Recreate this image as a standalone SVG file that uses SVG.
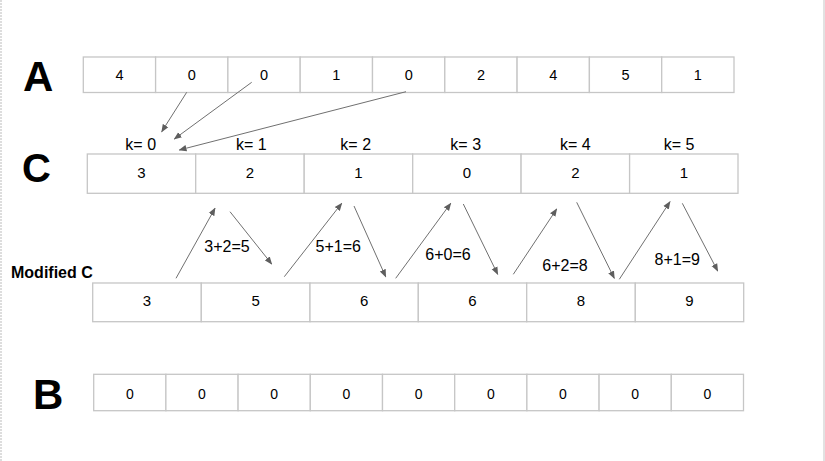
<svg xmlns="http://www.w3.org/2000/svg" width="825" height="461" viewBox="0 0 825 461">
<defs>
<style>
.cell{fill:#fff;stroke:#c6c6c6;stroke-width:1.3}
.num{font-family:"Liberation Sans",Arial,sans-serif;font-size:14.5px;fill:#000;text-anchor:middle}
.big{font-family:"Liberation Sans",Arial,sans-serif;font-size:42px;font-weight:bold;fill:#000}
.lbl{font-family:"Liberation Sans",Arial,sans-serif;font-size:16px;fill:#000;text-anchor:middle}
.conn line{stroke:#707070;stroke-width:1;marker-end:url(#ah)}
</style>
<marker id="ah" viewBox="0 0 10 10" refX="9" refY="5" markerWidth="8" markerHeight="8" markerUnits="userSpaceOnUse" orient="auto">
<path d="M0,1 L10,5 L0,9 z" fill="#5e5e5e"/>
</marker>
</defs>
<rect x="0" y="0" width="825" height="461" fill="#fff"/>
<line x1="1" y1="0" x2="1" y2="461" stroke="#d2d2d2" stroke-width="1.5" stroke-dasharray="2,1"/>
<rect x="823" y="0" width="2" height="461" fill="#e2e2e2"/>

<g id="arrayA">
<text class="big" x="23" y="91">A</text>
<rect class="cell" x="83.3" y="57" width="72.3" height="35.5"/>
<rect class="cell" x="155.6" y="57" width="72.3" height="35.5"/>
<rect class="cell" x="227.9" y="57" width="72.3" height="35.5"/>
<rect class="cell" x="300.2" y="57" width="72.3" height="35.5"/>
<rect class="cell" x="372.5" y="57" width="72.3" height="35.5"/>
<rect class="cell" x="444.8" y="57" width="72.3" height="35.5"/>
<rect class="cell" x="517.1" y="57" width="72.3" height="35.5"/>
<rect class="cell" x="589.4" y="57" width="72.3" height="35.5"/>
<rect class="cell" x="661.7" y="57" width="72.3" height="35.5"/>
<text class="num" x="119.5" y="79.5">4</text>
<text class="num" x="191.8" y="79.5">0</text>
<text class="num" x="264.1" y="79.5">0</text>
<text class="num" x="336.4" y="79.5">1</text>
<text class="num" x="408.7" y="79.5">0</text>
<text class="num" x="481" y="79.5">2</text>
<text class="num" x="553.3" y="79.5">4</text>
<text class="num" x="625.6" y="79.5">5</text>
<text class="num" x="697.9" y="79.5">1</text>
</g>

<g id="arrayC">
<text class="big" x="22" y="182" style="font-size:40px">C</text>
<rect class="cell" x="87.3" y="154" width="108.4" height="39.3"/>
<rect class="cell" x="195.7" y="154" width="108.5" height="39.3"/>
<rect class="cell" x="304.2" y="154" width="108.5" height="39.3"/>
<rect class="cell" x="412.7" y="154" width="108.4" height="39.3"/>
<rect class="cell" x="521.1" y="154" width="108.5" height="39.3"/>
<rect class="cell" x="629.6" y="154" width="108.4" height="39.3"/>
<text class="num" x="141.5" y="177.5" style="font-size:15px">3</text>
<text class="num" x="250" y="177.5" style="font-size:15px">2</text>
<text class="num" x="358.5" y="177.5" style="font-size:15px">1</text>
<text class="num" x="467" y="177.5" style="font-size:15px">0</text>
<text class="num" x="575.3" y="177.5" style="font-size:15px">2</text>
<text class="num" x="683.8" y="177.5" style="font-size:15px">1</text>
<text class="lbl" x="140.7" y="149.5">k= 0</text>
<text class="lbl" x="251.3" y="149.5">k= 1</text>
<text class="lbl" x="355.7" y="149.5">k= 2</text>
<text class="lbl" x="465.7" y="149.5">k= 3</text>
<text class="lbl" x="575.3" y="149.5">k= 4</text>
<text class="lbl" x="679" y="149.5">k= 5</text>
</g>

<g id="modifiedC">
<text x="11" y="278.3" style="font-family:'Liberation Sans',Arial,sans-serif;font-size:16px;font-weight:bold;fill:#000">Modified C</text>
<rect class="cell" x="92.7" y="283" width="108.6" height="38.7"/>
<rect class="cell" x="201.3" y="283" width="108.7" height="38.7"/>
<rect class="cell" x="310" y="283" width="108.3" height="38.7"/>
<rect class="cell" x="418.3" y="283" width="108.4" height="38.7"/>
<rect class="cell" x="526.7" y="283" width="108.6" height="38.7"/>
<rect class="cell" x="635.3" y="283" width="108.4" height="38.7"/>
<text class="num" x="147" y="305.7" style="font-size:15px">3</text>
<text class="num" x="255.6" y="305.7" style="font-size:15px">5</text>
<text class="num" x="364.2" y="305.7" style="font-size:15px">6</text>
<text class="num" x="472.5" y="305.7" style="font-size:15px">6</text>
<text class="num" x="581" y="305.7" style="font-size:15px">8</text>
<text class="num" x="689.5" y="305.7" style="font-size:15px">9</text>
<text class="lbl" x="227" y="252.3">3+2=5</text>
<text class="lbl" x="338.3" y="252.3">5+1=6</text>
<text class="lbl" x="448" y="260">6+0=6</text>
<text class="lbl" x="565" y="271">6+2=8</text>
<text class="lbl" x="677.3" y="265.3">8+1=9</text>
</g>

<g id="arrayB">
<text class="big" x="33" y="408.5">B</text>
<rect class="cell" x="93.7" y="374.3" width="72.2" height="36.4"/>
<rect class="cell" x="165.9" y="374.3" width="72.2" height="36.4"/>
<rect class="cell" x="238.1" y="374.3" width="72.2" height="36.4"/>
<rect class="cell" x="310.3" y="374.3" width="72.2" height="36.4"/>
<rect class="cell" x="382.5" y="374.3" width="72.2" height="36.4"/>
<rect class="cell" x="454.7" y="374.3" width="72.2" height="36.4"/>
<rect class="cell" x="526.9" y="374.3" width="72.2" height="36.4"/>
<rect class="cell" x="599.1" y="374.3" width="72.2" height="36.4"/>
<rect class="cell" x="671.3" y="374.3" width="72.2" height="36.4"/>
<text class="num" x="129.8" y="398.5" style="font-size:14px">0</text>
<text class="num" x="202" y="398.5" style="font-size:14px">0</text>
<text class="num" x="274.2" y="398.5" style="font-size:14px">0</text>
<text class="num" x="346.4" y="398.5" style="font-size:14px">0</text>
<text class="num" x="418.6" y="398.5" style="font-size:14px">0</text>
<text class="num" x="490.8" y="398.5" style="font-size:14px">0</text>
<text class="num" x="563" y="398.5" style="font-size:14px">0</text>
<text class="num" x="635.2" y="398.5" style="font-size:14px">0</text>
<text class="num" x="707.4" y="398.5" style="font-size:14px">0</text>
</g>

<g id="connectors" class="conn">
<line x1="186.7" y1="92.3" x2="161.7" y2="131.7"/>
<line x1="251.7" y1="82.3" x2="174.3" y2="139"/>
<line x1="406" y1="91.7" x2="179.3" y2="150"/>
<line x1="176" y1="278.3" x2="215" y2="208.3"/>
<line x1="230" y1="211.7" x2="271.7" y2="264"/>
<line x1="284.3" y1="276.7" x2="341.7" y2="203.3"/>
<line x1="354" y1="206" x2="385.7" y2="276.7"/>
<line x1="395.7" y1="278.3" x2="450.7" y2="203.3"/>
<line x1="463.3" y1="204" x2="497.7" y2="274.3"/>
<line x1="513.3" y1="274.3" x2="556.7" y2="209"/>
<line x1="576.7" y1="202.3" x2="614.3" y2="278.3"/>
<line x1="619.3" y1="279.3" x2="670" y2="201.7"/>
<line x1="682.3" y1="203.3" x2="717.7" y2="271"/>
</g>
</svg>
